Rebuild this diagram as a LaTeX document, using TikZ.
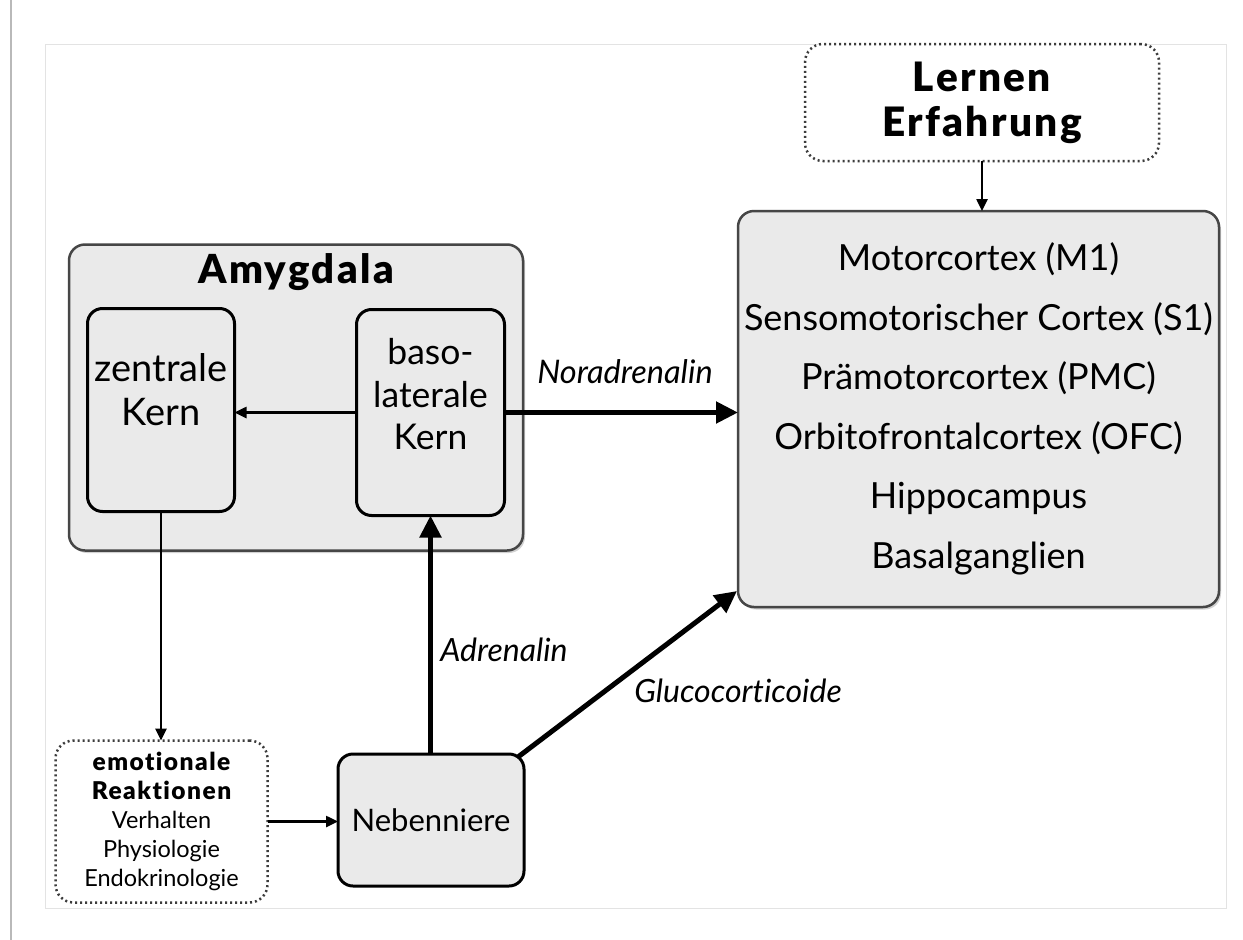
\documentclass[tikz,border=0pt]{standalone}
\usepackage{fontspec}
\setmainfont{Lato}[Ligatures=NoCommon, BoldFont={Lato Black}]
\usetikzlibrary{arrows.meta,shadows,calc}
\definecolor{boxfill}{RGB}{234,234,234}
\definecolor{frameline}{RGB}{70,70,70}
\definecolor{dotline}{RGB}{60,60,60}
\newcommand{\wideheavy}{\bfseries\addfontfeatures{LetterSpace=6}}
\begin{document}
\begin{tikzpicture}[x=1pt,y=-1pt,
  outerbox/.style={draw=frameline, line width=2.5pt, fill=boxfill, rounded corners=16pt,
    drop shadow={shadow xshift=2pt, shadow yshift=-2.5pt, opacity=0.35},
    inner sep=0pt, outer sep=0pt},
  corebox/.style={draw=black, line width=3pt, fill=boxfill, rounded corners=15pt,
    inner sep=0pt, outer sep=0pt, align=center},
  dotbox/.style={draw=dotline, line width=2.5pt, dash pattern=on 2pt off 3pt,
    fill=white, rounded corners=18pt, inner sep=0pt, outer sep=0pt, align=center},
  thinarrow/.style={line width=2.5pt, -{Triangle[length=12pt,width=11pt]}},
  heavyarrow/.style={line width=5pt, -{Triangle[length=22pt,width=21pt]}},
  flowlabel/.style={inner sep=0pt, font=\fontsize{32}{36}\selectfont\itshape},
]
% page background and frames
\fill[white] (0,0) rectangle (1243,940);
\useasboundingbox (0,0) rectangle (1243,940);
\draw[gray!55, line width=2.5pt] (11,0) -- (11,940);
\draw[gray!22, line width=1pt] (45,44) rectangle (1226,908);

% amygdala with its two nuclei
\node[outerbox, minimum width=454pt, minimum height=306pt] (amyg) at (296,397.5) {};
\node[inner sep=0pt, font=\fontsize{40}{42}\selectfont\wideheavy] (amygtitle) at (296,272) {Amygdala};
\node[corebox, minimum width=147pt, minimum height=203pt] (zentral) at (161,410) {};
\node[inner sep=0pt, align=center, font=\fontsize{38}{44}\selectfont] (zentraltext)
  at ($(zentral.center)+(0,-20)$) {zentrale\\Kern};
\node[corebox, minimum width=148pt, minimum height=206pt] (baso) at (430.5,412.5) {};
\node[inner sep=0pt, align=center, font=\fontsize{35.5}{42.5}\selectfont] (basotext)
  at ($(baso.center)+(0,-18)$) {baso-\\laterale\\Kern};

% cortical and subcortical targets
\node[outerbox, align=center, minimum width=481pt, minimum height=396pt,
  font=\fontsize{36}{59.5}\selectfont] (cortex) at (978.5,409)
  {Motorcortex (M1)\\Sensomotorischer Cortex (S1)\\Prämotorcortex (PMC)\\Orbitofrontalcortex (OFC)\\Hippocampus\\Basalganglien};

% learning / experience input
\node[dotbox, minimum width=354pt, minimum height=117pt,
  font=\fontsize{40.5}{45}\selectfont\wideheavy] (lernen) at (982,102.5) {Lernen\\Erfahrung};

% emotional reactions
\node[dotbox, minimum width=212pt, minimum height=162pt,
  font=\fontsize{23.5}{29}\selectfont] (emot) at (161.5,821.5)
  {{\fontsize{24.5}{29}\selectfont\wideheavy emotionale}\\
   {\fontsize{24.5}{29}\selectfont\wideheavy Reaktionen}\\
   Verhalten\\Physiologie\\Endokrinologie};

% adrenal gland
\node[corebox, minimum width=186pt, minimum height=132pt,
  font=\fontsize{31}{36}\selectfont] (nebn) at (431,820) {Nebenniere};

% connections
\draw[thinarrow] (baso.west) -- (baso.west -| zentral.east);
\draw[heavyarrow] (baso.east) -- (baso.east -| cortex.west);
\draw[thinarrow] (zentral.south) -- (zentral.south |- emot.north);
\draw[thinarrow] (emot.east) -- (emot.east -| nebn.west);
\draw[heavyarrow] (nebn.north -| baso.south) -- (baso.south);
\draw[heavyarrow] ($(nebn.north east)+(-6,3)$) -- ($(cortex.south west)+(-1,-16)$);
\draw[thinarrow] (lernen.south) -- (lernen.south |- cortex.north);

% transmitter labels
\node[flowlabel, font=\fontsize{32.5}{36}\selectfont\itshape] (lblnor) at (625,372) {Noradrenalin};
\node[flowlabel] (lbladr) at (504,650) {Adrenalin};
\node[flowlabel] (lblglu) at (738,691) {Glucocorticoide};
\end{tikzpicture}
\end{document}
